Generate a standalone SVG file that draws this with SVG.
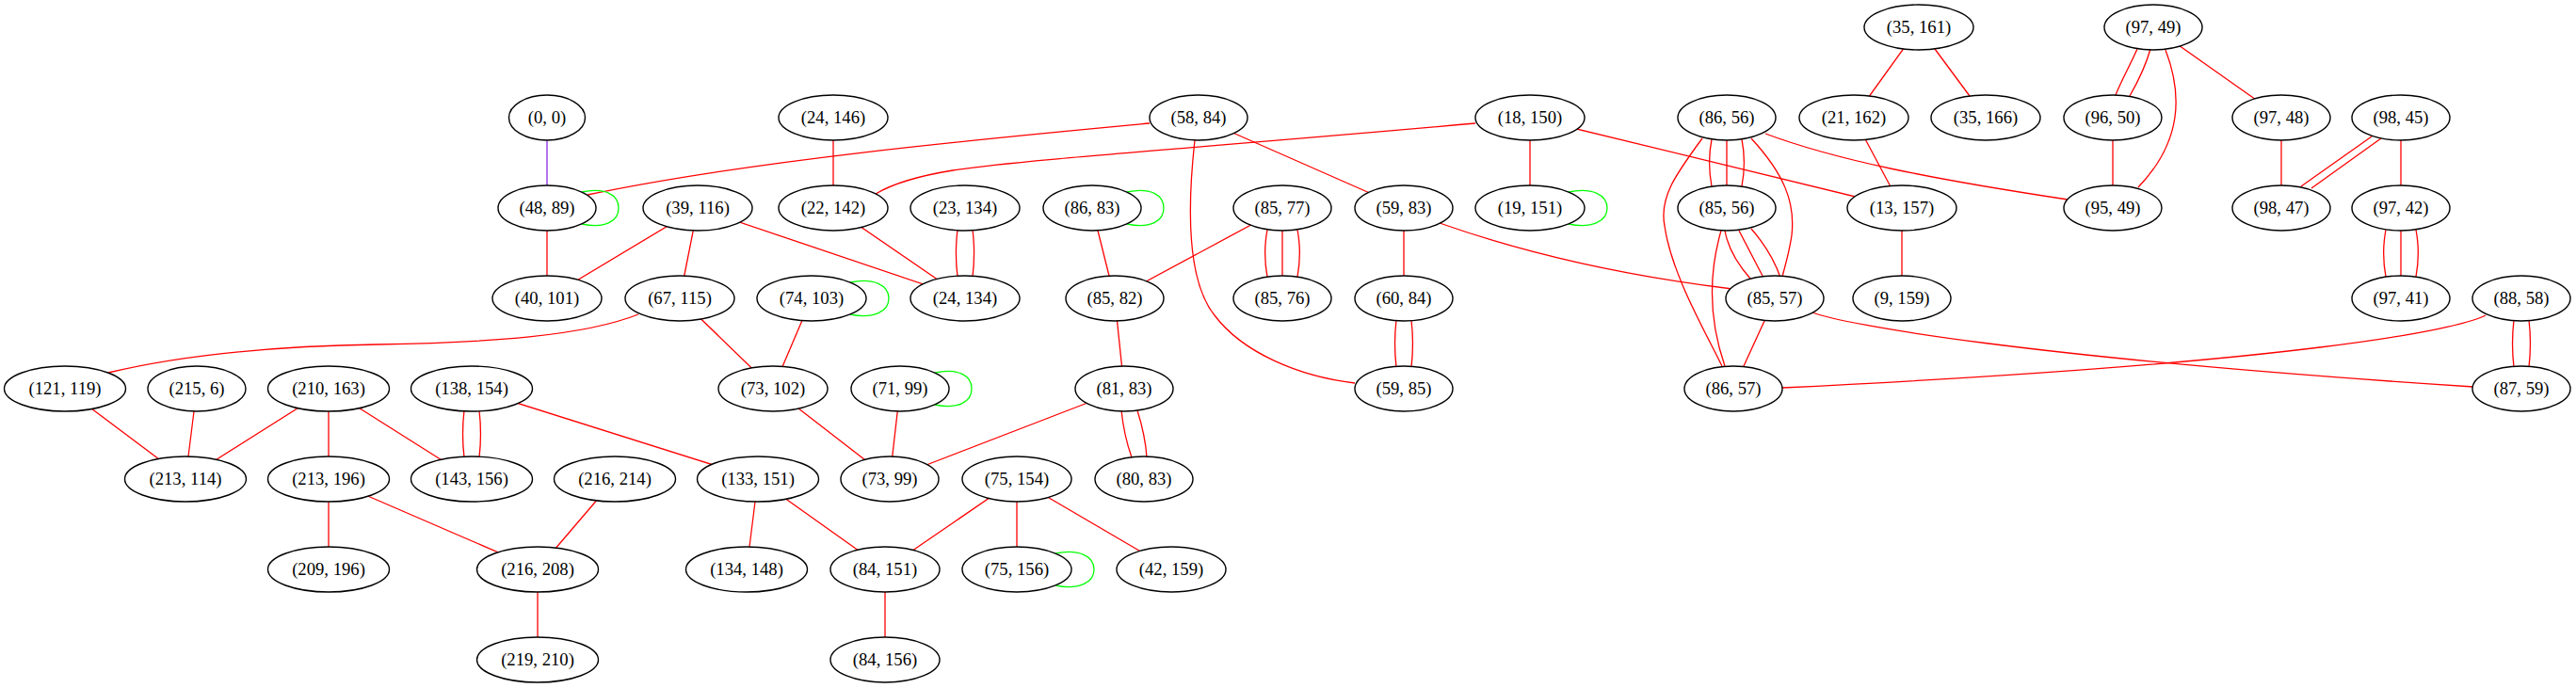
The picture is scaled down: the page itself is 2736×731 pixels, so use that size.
<svg xmlns="http://www.w3.org/2000/svg" width="2736" height="731" viewBox="0 0 2736 731">
<style>
.n ellipse{fill:#fff;stroke:#000;stroke-width:1.4}
.n text{font-family:"Liberation Serif","Times New Roman",serif;font-size:18.67px;text-anchor:middle;fill:#000}
#edges path,#edges line{fill:none;stroke:#ff0000;stroke-width:1.3}
#edges .loop{stroke:#00ff00}
#edges .pu{stroke:#8a2be2}
</style>
<rect width="2736" height="731" fill="#fff"/>
<g id="edges">
<line class="pu" x1="581" y1="125" x2="581" y2="221"/>
<path d="M1221,131 C1050,147 800,170 624,207"/>
<line x1="1273" y1="125" x2="1491" y2="221"/>
<path d="M1269,149 C1260,230 1262,300 1290,335 C1320,375 1380,400 1439,407"/>
<path d="M1567,131 C1300,155 1080,170 1012,181 C975,187 950,194 930,206"/>
<line x1="1625" y1="125" x2="1625" y2="221"/>
<line x1="1625" y1="125" x2="2020" y2="221"/>
<line x1="1969" y1="125" x2="2020" y2="221"/>
<line x1="2038" y1="29" x2="1969" y2="125"/>
<line x1="2038" y1="29" x2="2109" y2="125"/>
<line x1="2020" y1="221" x2="2020" y2="317"/>
<path d="M1875,142 C1950,170 2050,190 2196,212"/>
<line x1="1491" y1="221" x2="1491" y2="317"/>
<path d="M1529,237 C1600,262 1700,290 1840,307"/>
<path d="M1483,340 C1481,357 1481,373 1483,390"/>
<path d="M1499,340 C1501,357 1501,373 1499,390"/>
<path d="M1818,148 C1815,163 1815,182 1818,198"/>
<line x1="1834" y1="149" x2="1834" y2="197"/>
<path d="M1850,148 C1853,163 1853,182 1850,198"/>
<path d="M1860,147 C1895,185 1907,215 1903,250 C1900,270 1896,282 1893,294"/>
<path d="M1808,147 C1780,185 1762,210 1768,240 C1775,290 1810,350 1829,389"/>
<path d="M1832,245 C1835,262 1845,280 1859,296"/>
<line x1="1847" y1="245" x2="1873" y2="295"/>
<path d="M1860,243 C1873,258 1885,277 1891,295"/>
<path d="M1828,245 C1815,290 1815,340 1832,389"/>
<line x1="1885" y1="317" x2="1841" y2="413"/>
<path d="M1925,332 C1960,345 2150,380 2627,411"/>
<path d="M2640,335 C2610,350 2450,385 1893,412"/>
<path d="M2670,340 C2668,357 2668,373 2670,390"/>
<path d="M2686,340 C2688,357 2688,373 2686,390"/>
<path d="M2270,52 C2262,70 2253,86 2247,101"/>
<path d="M2284,52 C2279,70 2270,88 2262,102"/>
<path d="M2300,53 C2318,100 2318,150 2271,199"/>
<line x1="2287" y1="29" x2="2423" y2="125"/>
<line x1="2244" y1="125" x2="2244" y2="221"/>
<line x1="2423" y1="125" x2="2423" y2="221"/>
<line x1="2519" y1="145" x2="2444" y2="198"/>
<line x1="2529" y1="147" x2="2455" y2="200"/>
<line x1="2550" y1="125" x2="2550" y2="221"/>
<path d="M2534,244 C2531,260 2531,278 2534,294"/>
<line x1="2550" y1="245" x2="2550" y2="293"/>
<path d="M2566,244 C2569,260 2569,278 2566,294"/>
<line x1="581" y1="221" x2="581" y2="317"/>
<line x1="741" y1="221" x2="581" y2="317"/>
<line x1="741" y1="221" x2="722" y2="317"/>
<line x1="741" y1="221" x2="1025" y2="317"/>
<line x1="885" y1="125" x2="885" y2="221"/>
<line x1="885" y1="221" x2="1025" y2="317"/>
<path d="M1017,244 C1015,260 1015,278 1017,294"/>
<path d="M1033,244 C1035,260 1035,278 1033,294"/>
<line x1="1160" y1="221" x2="1184" y2="317"/>
<line x1="1362" y1="221" x2="1184" y2="317"/>
<path d="M1346,244 C1343,260 1343,278 1346,294"/>
<line x1="1362" y1="245" x2="1362" y2="293"/>
<path d="M1378,244 C1381,260 1381,278 1378,294"/>
<path d="M678,334 C620,357 520,364 400,366 C280,368 190,378 115,396"/>
<line x1="722" y1="317" x2="821" y2="413"/>
<line x1="862" y1="317" x2="821" y2="413"/>
<line x1="69" y1="413" x2="197" y2="509"/>
<line x1="209" y1="413" x2="197" y2="509"/>
<line x1="349" y1="413" x2="197" y2="509"/>
<line x1="349" y1="413" x2="349" y2="509"/>
<line x1="349" y1="413" x2="501" y2="509"/>
<path d="M493,436 C491,453 491,469 493,486"/>
<path d="M509,436 C511,453 511,469 509,486"/>
<line x1="501" y1="413" x2="805" y2="509"/>
<line x1="349" y1="509" x2="349" y2="605"/>
<line x1="349" y1="509" x2="571" y2="605"/>
<line x1="653" y1="509" x2="571" y2="605"/>
<line x1="571" y1="605" x2="571" y2="701"/>
<line x1="821" y1="413" x2="945" y2="509"/>
<line x1="956" y1="413" x2="945" y2="509"/>
<line x1="1194" y1="413" x2="945" y2="509"/>
<line x1="1184" y1="317" x2="1194" y2="413"/>
<path d="M1191,436 C1193,455 1197,472 1202,486"/>
<path d="M1208,436 C1213,452 1217,470 1218,486"/>
<line x1="805" y1="509" x2="793" y2="605"/>
<line x1="805" y1="509" x2="940" y2="605"/>
<line x1="1080" y1="509" x2="940" y2="605"/>
<line x1="1080" y1="509" x2="1080" y2="605"/>
<line x1="1080" y1="509" x2="1244" y2="605"/>
<line x1="940" y1="605" x2="940" y2="701"/>
<path class="loop" d="M618,204 C643,199 657,207 657,221 C657,235 643,243 618,238"/>
<path class="loop" d="M1197,204 C1222,199 1236,207 1236,221 C1236,235 1222,243 1197,238"/>
<path class="loop" d="M903,300 C928,295 944,303 944,317 C944,331 928,339 903,334"/>
<path class="loop" d="M1666,204 C1691,199 1707,207 1707,221 C1707,235 1691,243 1666,238"/>
<path class="loop" d="M993,396 C1018,391 1032,399 1032,413 C1032,427 1018,435 993,430"/>
<path class="loop" d="M1121,588 C1146,583 1162,591 1162,605 C1162,619 1146,627 1121,622"/>
</g>
<g id="n35_161" class="n"><ellipse cx="2038" cy="29" rx="58" ry="24"/><text x="2038" y="35">(35, 161)</text></g>
<g id="n97_49" class="n"><ellipse cx="2287" cy="29" rx="52" ry="24"/><text x="2287" y="35">(97, 49)</text></g>
<g id="n0_0" class="n"><ellipse cx="581" cy="125" rx="40.5" ry="24"/><text x="581" y="131">(0, 0)</text></g>
<g id="n24_146" class="n"><ellipse cx="885" cy="125" rx="58" ry="24"/><text x="885" y="131">(24, 146)</text></g>
<g id="n58_84" class="n"><ellipse cx="1273" cy="125" rx="52" ry="24"/><text x="1273" y="131">(58, 84)</text></g>
<g id="n18_150" class="n"><ellipse cx="1625" cy="125" rx="58" ry="24"/><text x="1625" y="131">(18, 150)</text></g>
<g id="n86_56" class="n"><ellipse cx="1834" cy="125" rx="52" ry="24"/><text x="1834" y="131">(86, 56)</text></g>
<g id="n21_162" class="n"><ellipse cx="1969" cy="125" rx="58" ry="24"/><text x="1969" y="131">(21, 162)</text></g>
<g id="n35_166" class="n"><ellipse cx="2109" cy="125" rx="58" ry="24"/><text x="2109" y="131">(35, 166)</text></g>
<g id="n96_50" class="n"><ellipse cx="2244" cy="125" rx="52" ry="24"/><text x="2244" y="131">(96, 50)</text></g>
<g id="n97_48" class="n"><ellipse cx="2423" cy="125" rx="52" ry="24"/><text x="2423" y="131">(97, 48)</text></g>
<g id="n98_45" class="n"><ellipse cx="2550" cy="125" rx="52" ry="24"/><text x="2550" y="131">(98, 45)</text></g>
<g id="n48_89" class="n"><ellipse cx="581" cy="221" rx="52" ry="24"/><text x="581" y="227">(48, 89)</text></g>
<g id="n39_116" class="n"><ellipse cx="741" cy="221" rx="58" ry="24"/><text x="741" y="227">(39, 116)</text></g>
<g id="n22_142" class="n"><ellipse cx="885" cy="221" rx="58" ry="24"/><text x="885" y="227">(22, 142)</text></g>
<g id="n23_134" class="n"><ellipse cx="1025" cy="221" rx="58" ry="24"/><text x="1025" y="227">(23, 134)</text></g>
<g id="n86_83" class="n"><ellipse cx="1160" cy="221" rx="52" ry="24"/><text x="1160" y="227">(86, 83)</text></g>
<g id="n85_77" class="n"><ellipse cx="1362" cy="221" rx="52" ry="24"/><text x="1362" y="227">(85, 77)</text></g>
<g id="n59_83" class="n"><ellipse cx="1491" cy="221" rx="52" ry="24"/><text x="1491" y="227">(59, 83)</text></g>
<g id="n19_151" class="n"><ellipse cx="1625" cy="221" rx="58" ry="24"/><text x="1625" y="227">(19, 151)</text></g>
<g id="n85_56" class="n"><ellipse cx="1834" cy="221" rx="52" ry="24"/><text x="1834" y="227">(85, 56)</text></g>
<g id="n13_157" class="n"><ellipse cx="2020" cy="221" rx="58" ry="24"/><text x="2020" y="227">(13, 157)</text></g>
<g id="n95_49" class="n"><ellipse cx="2244" cy="221" rx="52" ry="24"/><text x="2244" y="227">(95, 49)</text></g>
<g id="n98_47" class="n"><ellipse cx="2423" cy="221" rx="52" ry="24"/><text x="2423" y="227">(98, 47)</text></g>
<g id="n97_42" class="n"><ellipse cx="2550" cy="221" rx="52" ry="24"/><text x="2550" y="227">(97, 42)</text></g>
<g id="n40_101" class="n"><ellipse cx="581" cy="317" rx="58" ry="24"/><text x="581" y="323">(40, 101)</text></g>
<g id="n67_115" class="n"><ellipse cx="722" cy="317" rx="58" ry="24"/><text x="722" y="323">(67, 115)</text></g>
<g id="n74_103" class="n"><ellipse cx="862" cy="317" rx="58" ry="24"/><text x="862" y="323">(74, 103)</text></g>
<g id="n24_134" class="n"><ellipse cx="1025" cy="317" rx="58" ry="24"/><text x="1025" y="323">(24, 134)</text></g>
<g id="n85_82" class="n"><ellipse cx="1184" cy="317" rx="52" ry="24"/><text x="1184" y="323">(85, 82)</text></g>
<g id="n85_76" class="n"><ellipse cx="1362" cy="317" rx="52" ry="24"/><text x="1362" y="323">(85, 76)</text></g>
<g id="n60_84" class="n"><ellipse cx="1491" cy="317" rx="52" ry="24"/><text x="1491" y="323">(60, 84)</text></g>
<g id="n85_57" class="n"><ellipse cx="1885" cy="317" rx="52" ry="24"/><text x="1885" y="323">(85, 57)</text></g>
<g id="n9_159" class="n"><ellipse cx="2020" cy="317" rx="52" ry="24"/><text x="2020" y="323">(9, 159)</text></g>
<g id="n97_41" class="n"><ellipse cx="2550" cy="317" rx="52" ry="24"/><text x="2550" y="323">(97, 41)</text></g>
<g id="n88_58" class="n"><ellipse cx="2678" cy="317" rx="52" ry="24"/><text x="2678" y="323">(88, 58)</text></g>
<g id="n121_119" class="n"><ellipse cx="69" cy="413" rx="64.5" ry="24"/><text x="69" y="419">(121, 119)</text></g>
<g id="n215_6" class="n"><ellipse cx="209" cy="413" rx="52" ry="24"/><text x="209" y="419">(215, 6)</text></g>
<g id="n210_163" class="n"><ellipse cx="349" cy="413" rx="64.5" ry="24"/><text x="349" y="419">(210, 163)</text></g>
<g id="n138_154" class="n"><ellipse cx="501" cy="413" rx="64.5" ry="24"/><text x="501" y="419">(138, 154)</text></g>
<g id="n73_102" class="n"><ellipse cx="821" cy="413" rx="58" ry="24"/><text x="821" y="419">(73, 102)</text></g>
<g id="n71_99" class="n"><ellipse cx="956" cy="413" rx="52" ry="24"/><text x="956" y="419">(71, 99)</text></g>
<g id="n81_83" class="n"><ellipse cx="1194" cy="413" rx="52" ry="24"/><text x="1194" y="419">(81, 83)</text></g>
<g id="n59_85" class="n"><ellipse cx="1491" cy="413" rx="52" ry="24"/><text x="1491" y="419">(59, 85)</text></g>
<g id="n86_57" class="n"><ellipse cx="1841" cy="413" rx="52" ry="24"/><text x="1841" y="419">(86, 57)</text></g>
<g id="n87_59" class="n"><ellipse cx="2678" cy="413" rx="52" ry="24"/><text x="2678" y="419">(87, 59)</text></g>
<g id="n213_114" class="n"><ellipse cx="197" cy="509" rx="64.5" ry="24"/><text x="197" y="515">(213, 114)</text></g>
<g id="n213_196" class="n"><ellipse cx="349" cy="509" rx="64.5" ry="24"/><text x="349" y="515">(213, 196)</text></g>
<g id="n143_156" class="n"><ellipse cx="501" cy="509" rx="64.5" ry="24"/><text x="501" y="515">(143, 156)</text></g>
<g id="n216_214" class="n"><ellipse cx="653" cy="509" rx="64.5" ry="24"/><text x="653" y="515">(216, 214)</text></g>
<g id="n133_151" class="n"><ellipse cx="805" cy="509" rx="64.5" ry="24"/><text x="805" y="515">(133, 151)</text></g>
<g id="n73_99" class="n"><ellipse cx="945" cy="509" rx="52" ry="24"/><text x="945" y="515">(73, 99)</text></g>
<g id="n75_154" class="n"><ellipse cx="1080" cy="509" rx="58" ry="24"/><text x="1080" y="515">(75, 154)</text></g>
<g id="n80_83" class="n"><ellipse cx="1215" cy="509" rx="52" ry="24"/><text x="1215" y="515">(80, 83)</text></g>
<g id="n209_196" class="n"><ellipse cx="349" cy="605" rx="64.5" ry="24"/><text x="349" y="611">(209, 196)</text></g>
<g id="n216_208" class="n"><ellipse cx="571" cy="605" rx="64.5" ry="24"/><text x="571" y="611">(216, 208)</text></g>
<g id="n134_148" class="n"><ellipse cx="793" cy="605" rx="64.5" ry="24"/><text x="793" y="611">(134, 148)</text></g>
<g id="n84_151" class="n"><ellipse cx="940" cy="605" rx="58" ry="24"/><text x="940" y="611">(84, 151)</text></g>
<g id="n75_156" class="n"><ellipse cx="1080" cy="605" rx="58" ry="24"/><text x="1080" y="611">(75, 156)</text></g>
<g id="n42_159" class="n"><ellipse cx="1244" cy="605" rx="58" ry="24"/><text x="1244" y="611">(42, 159)</text></g>
<g id="n219_210" class="n"><ellipse cx="571" cy="701" rx="64.5" ry="24"/><text x="571" y="707">(219, 210)</text></g>
<g id="n84_156" class="n"><ellipse cx="940" cy="701" rx="58" ry="24"/><text x="940" y="707">(84, 156)</text></g>
</svg>
